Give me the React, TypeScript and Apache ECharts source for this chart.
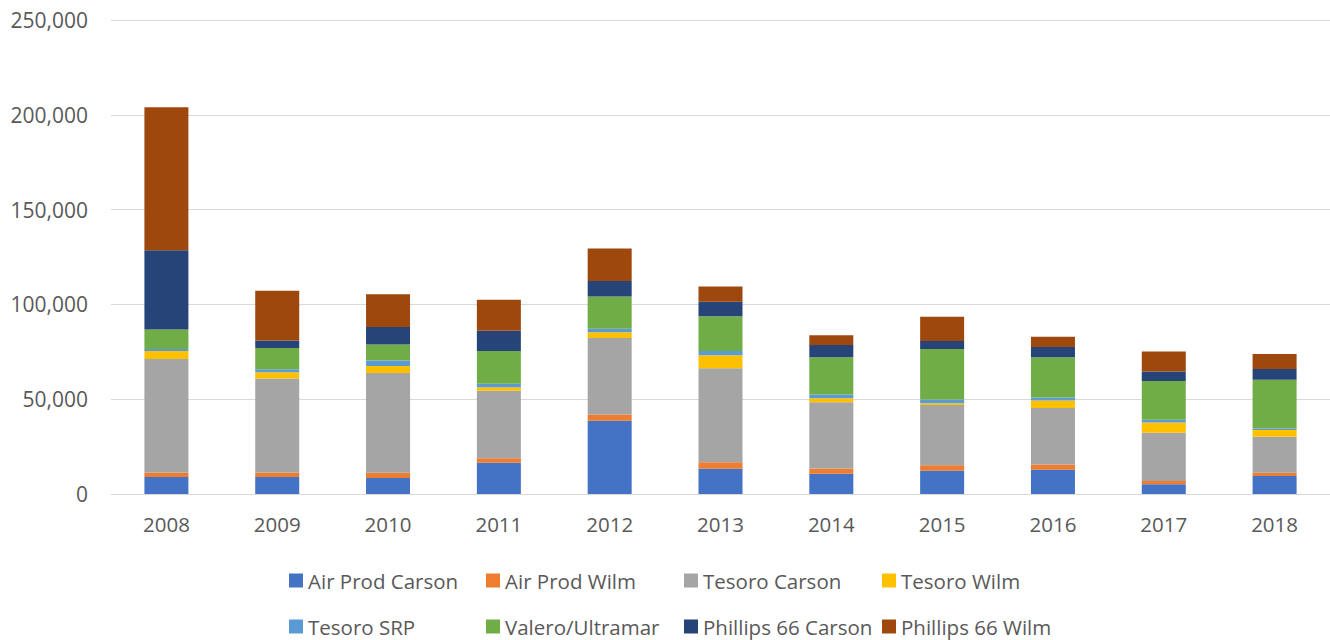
import React, { useEffect, useRef } from "react";
import * as echarts from "echarts";

const years = ["2008", "2009", "2010", "2011", "2012", "2013", "2014", "2015", "2016", "2017", "2018"];

const airProdCarson = [9000, 9000, 8400, 16500, 38600, 13300, 10700, 12300, 12800, 5100, 9500];
const airProdWilm = [2400, 2400, 2800, 2300, 3300, 3400, 2800, 2800, 2800, 1700, 1700];
const tesoroCarson = [59800, 49500, 52600, 35600, 40400, 49600, 34900, 31900, 29800, 25500, 19000];
const tesoroWilm = [4200, 3300, 3700, 1900, 3000, 6900, 2100, 900, 3900, 5400, 3500];
const tesoroSRP = [1100, 1600, 2900, 1900, 1900, 2200, 2000, 1900, 1600, 1400, 900];
const valeroUltramar = [10200, 11200, 8400, 17200, 17000, 18400, 19600, 26700, 21200, 20500, 25600];
const phillipsCarson = [41900, 3900, 9300, 10700, 8100, 7600, 6500, 4200, 5400, 5000, 5700];
const phillipsWilm = [75400, 26300, 17300, 16400, 17200, 8100, 5100, 12800, 5500, 10500, 7900];

const seriesNames = [
  "Air Prod Carson",
  "Air Prod Wilm",
  "Tesoro Carson",
  "Tesoro Wilm",
  "Tesoro SRP",
  "Valero/Ultramar",
  "Phillips 66 Carson",
  "Phillips 66 Wilm",
];
const seriesData = [
  airProdCarson,
  airProdWilm,
  tesoroCarson,
  tesoroWilm,
  tesoroSRP,
  valeroUltramar,
  phillipsCarson,
  phillipsWilm,
];
const colors = ["#4472C4", "#ED7D31", "#A5A5A5", "#FFC000", "#5B9BD5", "#70AD47", "#264478", "#9E480E"];

const FONT = "'Open Sans', sans-serif";
const TEXT = "#595959";

export default function App() {
  const ref = useRef<HTMLDivElement>(null);
  useEffect(() => {
    if (!ref.current) return;
    const chart = echarts.init(ref.current, undefined, { renderer: "svg" });
    const legendLefts = [284, 481, 679, 877];
    const legendTops = [565, 611];
    const legends = seriesNames.map((name, i) => ({
      orient: "horizontal" as const,
      left: legendLefts[i % 4],
      top: legendTops[Math.floor(i / 4)],
      itemWidth: 14,
      itemHeight: 14,
      itemGap: 0,
      icon: "rect",
      selectedMode: false,
      textStyle: { color: TEXT, fontSize: 20.5, fontFamily: FONT },
      data: [name],
    }));
    chart.setOption({
      animation: false,
      color: colors,
      textStyle: { fontFamily: FONT },
      legend: legends,
      grid: { left: 111, right: 0, top: 20, bottom: 146, containLabel: false },
      xAxis: {
        type: "category",
        data: years,
        axisLine: { lineStyle: { color: "#D9D9D9", width: 1 } },
        axisTick: { show: false },
        axisLabel: { color: TEXT, fontSize: 20.5, fontFamily: FONT, margin: 19 },
      },
      yAxis: {
        type: "value",
        min: 0,
        max: 250000,
        interval: 50000,
        axisLine: { show: false },
        axisTick: { show: false },
        splitLine: { lineStyle: { color: "#D9D9D9", width: 1 } },
        axisLabel: {
          color: TEXT,
          fontSize: 21,
          fontFamily: FONT,
          margin: 23,
          formatter: (v: number) => v.toLocaleString("en-US"),
        },
      },
      series: seriesNames.map((name, i) => ({
        name,
        type: "bar",
        stack: "total",
        barWidth: 44,
        data: seriesData[i],
        itemStyle: { color: colors[i] },
      })),
    });
    return () => chart.dispose();
  }, []);
  return (
    <div
      ref={ref}
      style={{ position: "fixed", left: 0, top: 0, width: 1330, height: 640, background: "#fff" }}
    />
  );
}
